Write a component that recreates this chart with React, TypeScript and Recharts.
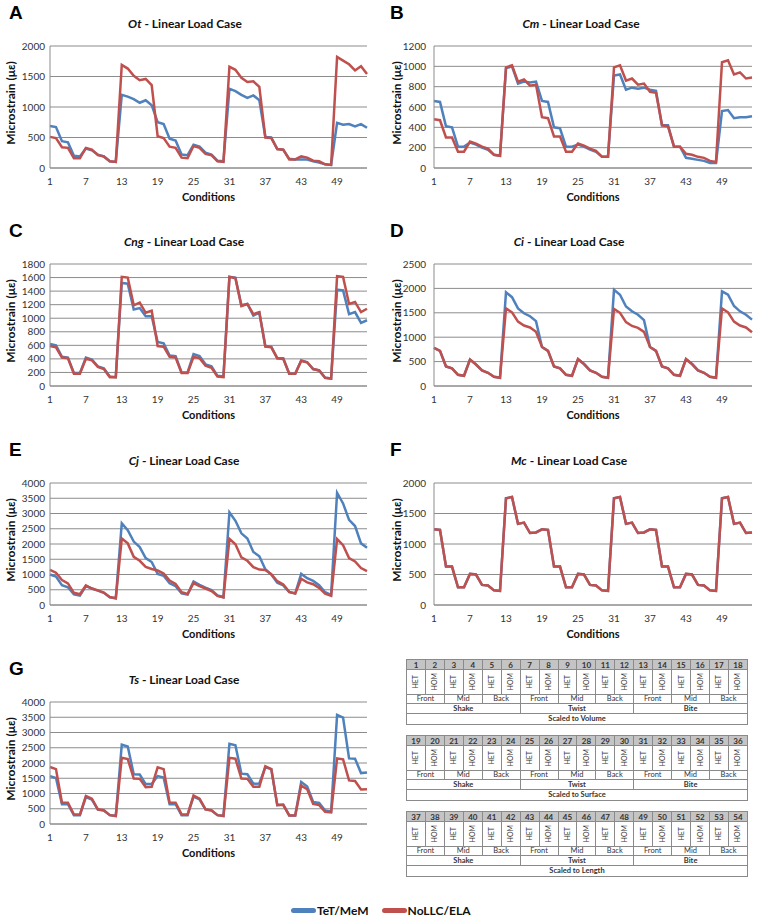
import React from "react";
import { CartesianGrid, Line, LineChart, XAxis, YAxis } from "recharts";

// conditions 1..54 (see tables: 3 scalings x 3 loads x 3 positions x HET/HOM)
const conditions = Array.from({ length: 54 }, (_, i) => i + 1);

const zygosity = ["HET", "HOM"];
const positions = ["Front", "Mid", "Back"];
const loads = ["Shake", "Twist", "Bite"];
const scalings = ["Scaled to Volume", "Scaled to Surface", "Scaled to Length"];

// A - Ot
const otTet = [
  690, 670, 440, 420, 200, 190, 320, 290, 220, 190, 110, 100,
  1200, 1170, 1130, 1070, 1110, 1030, 750, 720, 480, 450, 220, 210,
  380, 350, 250, 220, 120, 110, 1300, 1260, 1200, 1150, 1190, 1110,
  510, 500, 310, 300, 150, 140, 140, 140, 110, 90, 60, 50,
  740, 710, 720, 680, 720, 660,
];
const otNollc = [
  510, 490, 340, 330, 160, 160, 330, 300, 210, 190, 110, 100,
  1690, 1630, 1510, 1440, 1460, 1360, 520, 490, 350, 330, 170, 160,
  360, 330, 230, 210, 110, 100, 1660, 1610, 1480, 1410, 1420, 1330,
  500, 490, 310, 300, 140, 140, 190, 170, 120, 110, 60, 50,
  1820, 1760, 1700, 1600, 1670, 1540,
];
const otTicks = [0, 500, 1000, 1500, 2000];

// B - Cm
const cmTet = [
  660, 650, 410, 400, 210, 210, 250, 230, 200, 180, 130, 120,
  980, 1000, 830, 850, 840, 850, 660, 650, 400, 390, 210, 210,
  230, 210, 180, 160, 110, 110, 910, 920, 770, 790, 780, 790,
  770, 760, 420, 420, 210, 210, 100, 90, 80, 70, 50, 50,
  560, 570, 490, 500, 500, 510,
];
const cmNollc = [
  480, 470, 300, 300, 160, 160, 260, 240, 210, 190, 130, 120,
  990, 1010, 850, 870, 810, 820, 500, 490, 310, 310, 160, 160,
  240, 220, 190, 170, 110, 110, 990, 1010, 860, 880, 820, 830,
  750, 740, 420, 410, 210, 210, 140, 130, 110, 100, 70, 60,
  1040, 1060, 920, 940, 880, 890,
];
const cmTicks = [0, 200, 400, 600, 800, 1000, 1200];

// C - Cng
const cngTet = [
  620, 600, 430, 420, 190, 190, 420, 390, 290, 260, 140, 130,
  1520, 1510, 1130, 1150, 1030, 1030, 650, 630, 450, 440, 200, 200,
  470, 440, 320, 290, 150, 140, 1610, 1600, 1190, 1210, 1040, 1080,
  590, 580, 410, 410, 180, 180, 380, 350, 250, 230, 120, 110,
  1420, 1410, 1060, 1090, 930, 970,
];
const cngNollc = [
  590, 570, 420, 410, 180, 180, 400, 380, 280, 250, 130, 130,
  1610, 1600, 1190, 1230, 1080, 1110, 590, 580, 430, 420, 190, 190,
  430, 410, 300, 270, 140, 130, 1610, 1590, 1180, 1210, 1060, 1090,
  580, 570, 410, 400, 180, 180, 370, 350, 250, 230, 120, 110,
  1620, 1610, 1210, 1240, 1090, 1140,
];
const cngTicks = [0, 200, 400, 600, 800, 1000, 1200, 1400, 1600, 1800];

// D - Ci
const ciTet = [
  780, 720, 400, 360, 230, 210, 540, 440, 320, 270, 190, 170,
  1920, 1820, 1590, 1490, 1430, 1330, 800, 720, 400, 360, 230, 210,
  550, 450, 320, 270, 190, 170, 1970, 1870, 1630, 1530, 1460, 1350,
  800, 720, 400, 360, 230, 210, 550, 450, 320, 270, 190, 170,
  1940, 1870, 1640, 1530, 1460, 1360,
];
const ciNollc = [
  780, 720, 400, 360, 230, 210, 540, 440, 320, 270, 190, 170,
  1590, 1510, 1320, 1240, 1200, 1110, 800, 720, 400, 360, 230, 210,
  550, 450, 320, 270, 190, 170, 1580, 1500, 1310, 1230, 1190, 1110,
  800, 720, 400, 360, 230, 210, 550, 450, 320, 270, 190, 170,
  1590, 1510, 1320, 1240, 1200, 1100,
];
const ciTicks = [0, 500, 1000, 1500, 2000, 2500];

// E - Cj
const cjTet = [
  1000, 930, 650, 580, 350, 310, 620, 540, 470, 400, 250, 220,
  2680, 2450, 2080, 1900, 1540, 1410, 1020, 960, 710, 620, 380, 340,
  770, 660, 570, 490, 310, 260, 3040, 2760, 2350, 2180, 1740, 1600,
  1170, 1000, 730, 640, 420, 380, 1020, 880, 790, 650, 420, 330,
  3680, 3330, 2790, 2590, 2020, 1880,
];
const cjNollc = [
  1150, 1060, 820, 710, 400, 350, 640, 540, 480, 410, 260, 220,
  2180, 2020, 1580, 1450, 1250, 1180, 1130, 1030, 800, 690, 420, 360,
  720, 620, 540, 460, 300, 250, 2170, 1990, 1560, 1450, 1240, 1160,
  1150, 1010, 780, 670, 430, 380, 860, 740, 680, 560, 370, 300,
  2160, 1960, 1540, 1430, 1210, 1110,
];
const cjTicks = [0, 500, 1000, 1500, 2000, 2500, 3000, 3500, 4000];

// F - Mc (both models give the same strain, blue is hidden under red)
const mcValues = [
  1240, 1230, 630, 630, 290, 290, 510, 500, 330, 320, 240, 230,
  1750, 1770, 1330, 1350, 1180, 1190, 1240, 1230, 630, 630, 290, 290,
  510, 500, 330, 320, 240, 230, 1750, 1770, 1330, 1350, 1180, 1190,
  1240, 1230, 630, 630, 290, 290, 510, 500, 330, 320, 240, 230,
  1750, 1770, 1330, 1350, 1180, 1190,
];
const mcTicks = [0, 500, 1000, 1500, 2000];

// G - Ts
const tsTet = [
  1570, 1510, 650, 650, 290, 290, 880, 800, 470, 440, 290, 270,
  2600, 2540, 1630, 1620, 1310, 1310, 1570, 1520, 650, 650, 290, 290,
  900, 810, 480, 440, 290, 270, 2630, 2580, 1650, 1630, 1320, 1330,
  1860, 1800, 620, 640, 280, 280, 1380, 1230, 720, 690, 440, 410,
  3580, 3490, 2150, 2140, 1670, 1690,
];
const tsNollc = [
  1870, 1800, 700, 700, 310, 310, 920, 830, 480, 450, 290, 260,
  2170, 2130, 1490, 1480, 1210, 1220, 1860, 1800, 700, 700, 320, 310,
  930, 830, 480, 450, 290, 260, 2170, 2140, 1490, 1480, 1220, 1220,
  1890, 1800, 620, 620, 280, 280, 1260, 1140, 660, 620, 400, 380,
  2150, 2120, 1430, 1410, 1130, 1140,
];
const tsTicks = [0, 500, 1000, 1500, 2000, 2500, 3000, 3500, 4000];

const BLUE = "#4F81BD";
const RED = "#C0504D";
const GRID = "#8c8c8c";
const FONT = "Lato, 'Open Sans', sans-serif";

const PW = 381;
const PH = 219;
const TOP = 46;
const PLOT_H = 122;

function Panel(props: {
  letter: string;
  species: string;
  tet: number[];
  nollc: number[];
  ticks: number[];
  x: number;
  y: number;
  right?: boolean;
  titleX: number;
}) {
  const { letter, species, tet, nollc, ticks, x, y, right, titleX } = props;
  const data = conditions.map((c, i) => ({ c, tet: tet[i], nollc: nollc[i] }));
  const yw = right ? 53 : 50;
  const mr = right ? 10 : 14;
  const plotMid = (yw + PW - mr) / 2;
  return (
    <div style={{ position: "absolute", left: x, top: y, width: PW, height: PH }}>
      <LineChart
        width={PW}
        height={PH}
        data={data}
        margin={{ top: TOP, right: mr, bottom: 18, left: 0 }}
      >
        <CartesianGrid vertical={false} stroke={GRID} />
        <XAxis
          dataKey="c"
          interval={5}
          height={33}
          tickLine={false}
          tickSize={6}
          tickMargin={4}
          axisLine={{ stroke: GRID }}
          tick={{ fontSize: 10, fill: "#333", fontFamily: FONT }}
        />
        <YAxis
          width={yw}
          domain={[0, ticks[ticks.length - 1]]}
          ticks={ticks}
          interval={0}
          tickLine={false}
          tickSize={0}
          tickMargin={right ? 8 : 5}
          axisLine={{ stroke: GRID }}
          tick={{ fontSize: 10, fill: "#333", fontFamily: FONT }}
        />
        <Line
          dataKey="tet"
          name="TeT/MeM"
          stroke={BLUE}
          strokeWidth={2.5}
          dot={false}
          isAnimationActive={false}
        />
        <Line
          dataKey="nollc"
          name="NoLLC/ELA"
          stroke={RED}
          strokeWidth={2.5}
          dot={false}
          isAnimationActive={false}
        />
      </LineChart>
      <svg
        width={PW}
        height={PH}
        style={{ position: "absolute", left: 0, top: 0, pointerEvents: "none" }}
      >
        <text x={9} y={19} fontFamily="'Liberation Sans', Arial, sans-serif" fontWeight="bold" fontSize={19}>
          {letter}
        </text>
        <text x={titleX} y={28} textAnchor="middle" fontFamily={FONT} fontWeight="bold" fontSize={12} fill="#111">
          <tspan fontStyle="italic">{species}</tspan> - Linear Load Case
        </text>
        <text
          transform={`translate(${right ? 15 : 10},103) rotate(-90)`}
          textAnchor="middle"
          dominantBaseline="central"
          fontFamily={FONT}
          fontWeight="bold"
          fontSize={12}
          fill="#111"
        >
          Microstrain (με)
        </text>
        <text x={plotMid} y={TOP + PLOT_H + 33} textAnchor="middle" fontFamily={FONT} fontWeight="bold" fontSize={11} fill="#111">
          Conditions
        </text>
      </svg>
    </div>
  );
}

const cell: React.CSSProperties = {
  border: "1px solid #8a8a8a",
  padding: 0,
  textAlign: "center",
  lineHeight: 1,
  overflow: "hidden",
};

function ConditionTable({ block, top }: { block: number; top: number }) {
  const nums = conditions.slice(block * 18, block * 18 + 18);
  return (
    <table
      style={{
        position: "absolute",
        left: 406,
        top,
        width: 342,
        height: 65,
        borderCollapse: "collapse",
        tableLayout: "fixed",
        border: "1.5px solid #3a3a3a",
        fontFamily: FONT,
        color: "#333",
      }}
    >
      <tbody>
        <tr style={{ height: 10 }}>
          {nums.map((n) => (
            <td key={n} style={{ ...cell, background: "#c4c4c4", fontWeight: "bold", fontSize: 8 }}>
              {n}
            </td>
          ))}
        </tr>
        <tr style={{ height: 25 }}>
          {nums.map((n, i) => (
            <td key={n} style={cell}>
              <div
                style={{
                  writingMode: "vertical-rl",
                  transform: "rotate(180deg)",
                  fontSize: 7,
                  margin: "0 auto",
                }}
              >
                {zygosity[i % 2]}
              </div>
            </td>
          ))}
        </tr>
        <tr style={{ height: 9 }}>
          {loads.flatMap((l) => positions.map((p) => l + p)).map((k, i) => (
            <td key={k} colSpan={2} style={{ ...cell, fontSize: 7.5 }}>
              {positions[i % 3]}
            </td>
          ))}
        </tr>
        <tr style={{ height: 10 }}>
          {loads.map((l) => (
            <td key={l} colSpan={6} style={{ ...cell, fontSize: 7.5, fontWeight: "bold" }}>
              {l}
            </td>
          ))}
        </tr>
        <tr style={{ height: 11 }}>
          <td colSpan={18} style={{ ...cell, fontSize: 7.5, fontWeight: "bold" }}>
            {scalings[block]}
          </td>
        </tr>
      </tbody>
    </table>
  );
}

function LegendItem({ color, label }: { color: string; label: string }) {
  return (
    <div style={{ display: "flex", alignItems: "center" }}>
      <div style={{ width: 25, height: 5, borderRadius: 3, background: color }} />
      <span style={{ fontFamily: FONT, fontWeight: "bold", fontSize: 12, color: "#111", marginLeft: 1 }}>
        {label}
      </span>
    </div>
  );
}

export default function App() {
  return (
    <div style={{ position: "absolute", left: 0, top: 0, width: 762, height: 924, background: "#fff" }}>
      <Panel letter="A" species="Ot" tet={otTet} nollc={otNollc} ticks={otTicks} x={0} y={0} titleX={185} />
      <Panel letter="B" species="Cm" tet={cmTet} nollc={cmNollc} ticks={cmTicks} x={381} y={0} right titleX={200} />
      <Panel letter="C" species="Cng" tet={cngTet} nollc={cngNollc} ticks={cngTicks} x={0} y={218} titleX={184} />
      <Panel letter="D" species="Ci" tet={ciTet} nollc={ciNollc} ticks={ciTicks} x={381} y={218} right titleX={188} />
      <Panel letter="E" species="Cj" tet={cjTet} nollc={cjNollc} ticks={cjTicks} x={0} y={437} titleX={184} />
      <Panel letter="F" species="Mc" tet={mcValues} nollc={mcValues} ticks={mcTicks} x={381} y={437} right titleX={188} />
      <Panel letter="G" species="Ts" tet={tsTet} nollc={tsNollc} ticks={tsTicks} x={0} y={656} titleX={184} />
      <ConditionTable block={0} top={659} />
      <ConditionTable block={1} top={735} />
      <ConditionTable block={2} top={811} />
      <div style={{ position: "absolute", left: 291, top: 903, display: "flex", gap: 13 }}>
        <LegendItem color={BLUE} label="TeT/MeM" />
        <LegendItem color={RED} label="NoLLC/ELA" />
      </div>
    </div>
  );
}
